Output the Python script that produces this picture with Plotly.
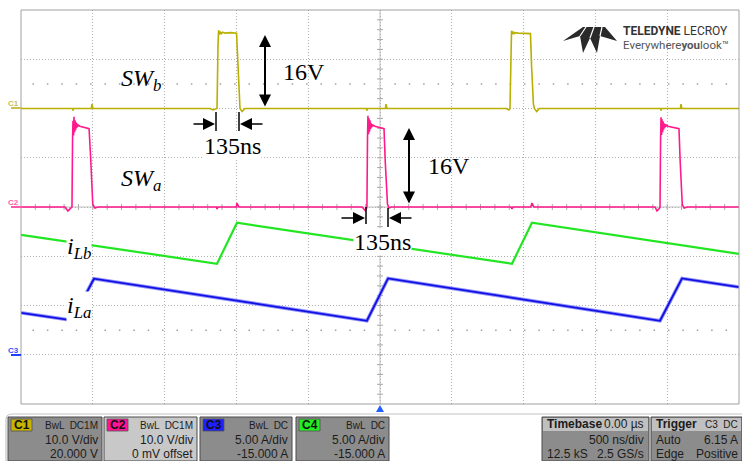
import plotly.graph_objects as go

W, H = 742, 461

# ---------------- data (time in microseconds) ----------------
# C1 : SW_b voltage (V)
swb_t = [-2.500, -2.141, -2.138, -2.134, -2.010, -2.006, -2.000,
         -1.184, -1.163, -1.142, -1.135, -1.128, -1.124, -1.118, -1.112, -1.105, -1.095, -1.080, -1.040,
         -0.999, -0.992, -0.982, -0.975, -0.961, -0.940,
         -0.095, -0.091, -0.087, 0.038, 0.042, 0.048,
         0.880, 0.898, 0.905, 0.912, 0.916, 0.922, 0.928, 0.935, 0.945, 0.960, 1.000, 1.048,
         1.055, 1.068, 1.075, 1.091, 1.110,
         1.953, 1.957, 1.961, 2.092, 2.096, 2.102, 2.500]
swb_v = [0, 0, -0.4, 0, 0, 0.9, 0,
         0, -0.3, -0.1, 0, 13.0, 15.9, 15.0, 15.6, 15.2, 15.5, 15.3, 15.4,
         15.3, 10.0, 2.0, 0, -0.6, 0,
         0, -0.4, 0, 0, 0.9, 0,
         0, -0.3, 0, 12.5, 15.8, 15.1, 15.6, 15.2, 15.4, 15.3, 15.3, 15.2,
         9.0, 1.0, 0, -0.6, 0,
         0, -0.4, 0, 0, 0.9, 0, 0]

# C2 : SW_a voltage (V)
swa_t = [-2.500, -2.194, -2.173, -2.152, -2.145, -2.141, -2.138, -2.134, -2.131, -2.127, -2.124,
         -2.120, -2.117, -2.113, -2.110, -2.106, -2.100, -2.090, -2.060, -2.026, -2.015, -2.000,
         -1.985, -1.964,
         -1.140, -1.135, -1.128, -1.000, -0.996, -0.989, -0.982,
         -0.125, -0.104, -0.094, -0.091, -0.087, -0.084, -0.080, -0.077, -0.073, -0.070, -0.066,
         -0.063, -0.059, -0.056, -0.052, -0.046, -0.036, -0.006, 0.028, 0.037, 0.052, 0.063, 0.080,
         0.912, 0.919, 0.926, 1.050, 1.058, 1.065, 1.072,
         1.915, 1.929, 1.945, 1.950, 1.954, 1.957, 1.961, 1.964, 1.968, 1.971, 1.975, 1.978,
         1.982, 1.985, 1.989, 1.995, 2.005, 2.035, 2.082, 2.090, 2.105, 2.118, 2.140, 2.500]
swa_v = [0, 0, -0.8, -0.3, 0, 13.5, 17.5, 14.5, 18.3, 15.2, 17.6,
         15.6, 17.2, 16.0, 16.9, 16.3, 16.6, 16.4, 16.2, 15.9, 10.0, 0.5,
         -0.2, 0,
         0, -0.4, 0, 0, 0.8, 0.2, 0,
         0, -0.7, -0.3, 0, 14.0, 18.5, 14.8, 18.0, 15.3, 17.6, 15.8,
         17.1, 16.1, 16.8, 16.4, 16.6, 16.4, 16.2, 15.9, 9.0, 0.6, -0.2, 0,
         0, -0.4, 0, 0, 0.8, 0.2, 0,
         0, -0.8, -0.3, 0, 13.8, 18.2, 14.6, 17.8, 15.2, 17.4, 15.7, 17.0,
         16.0, 16.8, 16.3, 16.6, 16.4, 16.2, 15.9, 9.5, 0.5, -0.2, 0, 0]

# C4 : inductor current iLb (A)
ilb_t = [-2.500, -1.135, -0.996, 0.919, 1.058, 2.500]
ilb_v = [12.18, 9.24, 13.40, 9.24, 13.40, 10.25]

# C3 : inductor current iLa (A)
ila_t = [-2.500, -2.145, -1.992, -0.091, 0.056, 1.950, 2.103, 2.500]
ila_v = [4.26, 3.50, 7.72, 3.45, 7.75, 3.45, 7.75, 6.87]

# channel settings (as displayed on the scope)
ch_names = ["C1", "C2", "C3", "C4"]
ch_row1 = ["BwL  DC1M", "BwL  DC1M", "BwL  DC", "BwL  DC"]
ch_row2 = ["10.0 V/div", "10.0 V/div", "5.00 A/div", "5.00 A/div"]
ch_row3 = ["20.000 V", "0 mV offset", "-15.000 A", "-15.000 A"]
ch_colors = ["#c8b400", "#ff1493", "#2020ff", "#22ee22"]

# ---------------- helpers for layout decoration ----------------
def PX(x):
    return x / W


def PY(y):
    return 1 - y / H


fig = go.Figure()
fig.add_trace(go.Scatter(x=swb_t, y=swb_v, yaxis="y2", mode="lines",
                         line=dict(color="#b8b000", width=1.6), hoverinfo="skip"))
fig.add_trace(go.Scatter(x=swa_t, y=swa_v, yaxis="y", mode="lines",
                         line=dict(color="#ff1a8c", width=1.6), hoverinfo="skip"))
fig.add_trace(go.Scatter(x=ilb_t, y=ilb_v, yaxis="y3", mode="lines",
                         line=dict(color="#22e622", width=2.2), hoverinfo="skip"))
fig.add_trace(go.Scatter(x=ila_t, y=ila_v, yaxis="y3", mode="lines",
                         line=dict(color="#9090ff", width=3.6), hoverinfo="skip"))
fig.add_trace(go.Scatter(x=ila_t, y=ila_v, yaxis="y3", mode="lines",
                         line=dict(color="#1010e0", width=1.8), hoverinfo="skip"))

grid = dict(showgrid=True, gridcolor="#b0b0b0", griddash="1px,2px", gridwidth=1,
            showticklabels=False, zeroline=False, ticks="", showline=False, fixedrange=True)

fig.update_layout(
    width=W, height=H,
    margin=dict(l=0, r=0, t=0, b=0),
    paper_bgcolor="white", plot_bgcolor="white",
    showlegend=False,
    xaxis=dict(domain=[PX(21), PX(739)], range=[-2.5, 2.5], dtick=0.5, tick0=0, **grid),
    yaxis=dict(domain=[PY(404), PY(10)], range=[-40, 40], dtick=10, tick0=0, **grid),
    yaxis2=dict(overlaying="y", range=[-60, 20], visible=False),
    yaxis3=dict(overlaying="y", range=[-5, 35], visible=False),
)

shapes = []
# plot frame
shapes.append(dict(type="rect", xref="x domain", yref="y domain", x0=0, x1=1, y0=0, y1=1,
                   line=dict(color="#a0a0a0", width=1), layer="above"))
# center lines
shapes.append(dict(type="line", xref="x", yref="y domain", x0=0, x1=0, y0=0, y1=1,
                   line=dict(color="#c0c0c0", width=1), layer="below"))
shapes.append(dict(type="line", xref="x domain", yref="y", x0=0, x1=1, y0=0, y1=0,
                   line=dict(color="#c0c0c0", width=1), layer="below"))
# minor ticks on the center lines
for k in range(-19, 20):
    shapes.append(dict(type="line", xref="x", yref="y", xsizemode="pixel", xanchor=0,
                       x0=-3, x1=3, y0=2 * k, y1=2 * k,
                       line=dict(color="#a8a8a8", width=1), layer="below"))
for k in range(-24, 25):
    shapes.append(dict(type="line", xref="x", yref="y", ysizemode="pixel", yanchor=0,
                       y0=-3, y1=3, x0=0.1 * k, x1=0.1 * k,
                       line=dict(color="#a8a8a8", width=1), layer="below"))
# sparse dotted reference lines at +/- 2.5 div
for yy in (25, -25):
    for xa, xb in ((-2.42, -0.1), (0.1, 2.42)):
        shapes.append(dict(type="line", xref="x", yref="y", x0=xa, x1=xb, y0=yy, y1=yy,
                           line=dict(color="#a0a0a0", width=1.5, dash="1.5px,12.9px"),
                           layer="below"))

# channel ground markers on the left
for yp, col in ((108, "#c8c050"), (207, "#ff5aa8"), (355, "#2040ff")):
    shapes.append(dict(type="line", xref="paper", yref="paper", x0=PX(11), x1=PX(21),
                       y0=PY(yp), y1=PY(yp), line=dict(color=col, width=2)))

# measurement bars
for xb, ya, yb in ((216, 112, 131), (239, 112, 131), (366, 207, 224), (388, 208, 227)):
    shapes.append(dict(type="line", xref="paper", yref="paper", x0=PX(xb), x1=PX(xb),
                       y0=PY(ya), y1=PY(yb), line=dict(color="black", width=1.5)))

# trigger position marker
shapes.append(dict(type="path", xref="paper", yref="paper",
                   path=f"M{PX(376)},{PY(412)} L{PX(384)},{PY(412)} L{PX(380)},{PY(405)} Z",
                   fillcolor="#2060ff", line=dict(width=0)))

# Teledyne logo icon
pts = [(563, 41), (583, 27), (605, 27), (617, 41), (600, 36), (597, 53), (590, 38),
       (583, 53), (580, 36)]
path = "M" + " L".join(f"{PX(a)},{PY(b)}" for a, b in pts) + " Z"
shapes.append(dict(type="path", xref="paper", yref="paper", path=path,
                   fillcolor="#2a2a2a", line=dict(width=0)))
for (a, b), (c, d) in (((586, 27), (580, 36)), ((602, 27), (600, 36)), ((594, 27), (590, 38))):
    shapes.append(dict(type="line", xref="paper", yref="paper", x0=PX(a), y0=PY(b),
                       x1=PX(c), y1=PY(d), line=dict(color="white", width=1.2)))

# bottom panel frame
shapes.append(dict(type="path", xref="paper", yref="paper",
                   path=f"M{PX(6)},{PY(461)} L{PX(6)},{PY(420)} Q{PX(6)},{PY(414)} {PX(12)},{PY(414)} L{PX(742)},{PY(414)}",
                   line=dict(color="#c4c4c4", width=1.2)))

annotations = []
box_x = [(8, 102), (104, 197), (200, 292), (296, 389)]
box_fill = ["#8c8c8c", "#c8c8c8", "#8c8c8c", "#8c8c8c"]
font_ui = "Liberation Sans, Arial, sans-serif"
txtc = "#1c1c1c"
for i in range(4):
    xa, xb = box_x[i]
    shapes.append(dict(type="rect", xref="paper", yref="paper", x0=PX(xa), x1=PX(xb),
                       y0=PY(461), y1=PY(417), fillcolor=box_fill[i],
                       line=dict(color="#4a4a4a", width=1)))
    shapes.append(dict(type="rect", xref="paper", yref="paper", x0=PX(xa + 3), x1=PX(xa + 24),
                       y0=PY(431), y1=PY(419), fillcolor=ch_colors[i],
                       line=dict(color="#505050", width=0.8)))
    annotations.append(dict(xref="paper", yref="paper", x=PX(xa + 13.5), y=PY(425),
                            text=f"<b>{ch_names[i]}</b>", showarrow=False,
                            font=dict(family=font_ui, size=12, color="#111"),
                            xanchor="center", yanchor="middle"))
    for txt, yy, sz in ((ch_row1[i], 425, 10), (ch_row2[i], 440, 12), (ch_row3[i], 454, 12)):
        annotations.append(dict(xref="paper", yref="paper", x=PX(xb - 2), y=PY(yy),
                                text=txt, showarrow=False,
                                font=dict(family=font_ui, size=sz, color=txtc),
                                xanchor="right", yanchor="middle"))

# timebase / trigger boxes
for xa, xb in ((542, 649), (651, 742)):
    shapes.append(dict(type="rect", xref="paper", yref="paper", x0=PX(xa), x1=PX(xb),
                       y0=PY(461), y1=PY(417), fillcolor="#8c8c8c",
                       line=dict(color="#4a4a4a", width=1)))
    shapes.append(dict(type="rect", xref="paper", yref="paper", x0=PX(xa + 1), x1=PX(xb - 1),
                       y0=PY(431), y1=PY(418), fillcolor="#c0c0c0", line=dict(width=0)))

tb_items = [
    ("<b>Timebase</b>", 545, 424, "left", 12), ("0.00 µs", 646, 424, "right", 12),
    ("500 ns/div", 646, 440, "right", 12),
    ("12.5 kS", 545, 454, "left", 12), ("2.5 GS/s", 646, 454, "right", 12),
    ("<b>Trigger</b>", 654, 424, "left", 12), ("C3  DC", 740, 424, "right", 10),
    ("Auto", 654, 440, "left", 12), ("6.15 A", 740, 440, "right", 12),
    ("Edge", 654, 454, "left", 12), ("Positive", 740, 454, "right", 12),
]
for txt, xx, yy, anc, sz in tb_items:
    annotations.append(dict(xref="paper", yref="paper", x=PX(xx), y=PY(yy), text=txt,
                            showarrow=False, font=dict(family=font_ui, size=sz, color=txtc),
                            xanchor=anc, yanchor="middle"))

# channel labels on left edge
for txt, yy, col in (("C1", 103, "#c8c050"), ("C2", 202, "#ff5aa8"), ("C3", 350, "#3050ff")):
    annotations.append(dict(xref="paper", yref="paper", x=PX(13), y=PY(yy), text=f"<b>{txt}</b>",
                            showarrow=False, font=dict(family=font_ui, size=8, color=col),
                            xanchor="center", yanchor="middle"))

# logo text
annotations.append(dict(xref="paper", yref="paper", x=PX(621), y=PY(31),
                        text="<b>TELEDYNE</b> LECROY", showarrow=False,
                        font=dict(family="Roboto, Liberation Sans", size=12, color="#333"),
                        xanchor="left", yanchor="middle"))
annotations.append(dict(xref="paper", yref="paper", x=PX(621), y=PY(45),
                        text="Everywhere<b>you</b>look\u2122", showarrow=False,
                        font=dict(family="Roboto, Liberation Sans", size=11.5, color="#555"),
                        xanchor="left", yanchor="middle"))

# chart labels (serif)
serif = "Liberation Serif, Times New Roman, serif"
labels = [
    ("<i>SW</i><sub><i>b</i></sub>", 141, 80, False),
    ("<i>SW</i><sub><i>a</i></sub>", 141, 180, False),
    ("16V", 304, 72, False),
    ("135ns", 233, 146, True),
    ("16V", 449, 166, False),
    ("135ns", 382, 242, True),
    ("<i>i</i><sub><i>Lb</i></sub>", 79, 248, True),
    ("<i>i</i><sub><i>La</i></sub>", 79, 307, True),
]
for txt, xx, yy, bg in labels:
    annotations.append(dict(xref="paper", yref="paper", x=PX(xx), y=PY(yy), text=txt,
                            showarrow=False, font=dict(family=serif, size=24, color="black"),
                            xanchor="center", yanchor="middle",
                            bgcolor="white" if bg else "rgba(0,0,0,0)", borderpad=0))

# arrows
arrows = [
    (265, 35, 0, 73, "end+start", 2, 1.2),
    (409, 128, 0, 77, "end+start", 2, 1.2),
    (215, 124, -23, 0, "end", 1.5, 1.6),
    (240, 124, 24, 0, "end", 1.5, 1.6),
    (365, 218, -25, 0, "end", 1.5, 1.6),
    (389, 218, 24, 0, "end", 1.5, 1.6),
]
for xx, yy, ax, ay, side, aw, asz in arrows:
    annotations.append(dict(xref="paper", yref="paper", x=PX(xx), y=PY(yy), ax=ax, ay=ay,
                            axref="pixel", ayref="pixel", text="", showarrow=True,
                            arrowhead=2, arrowside=side, arrowwidth=aw, arrowsize=asz,
                            arrowcolor="black"))

fig.update_layout(shapes=shapes, annotations=annotations)
fig.write_html("out.html", config={"displayModeBar": False},
               post_script="document.body.style.margin='0';document.body.style.padding='0';")
